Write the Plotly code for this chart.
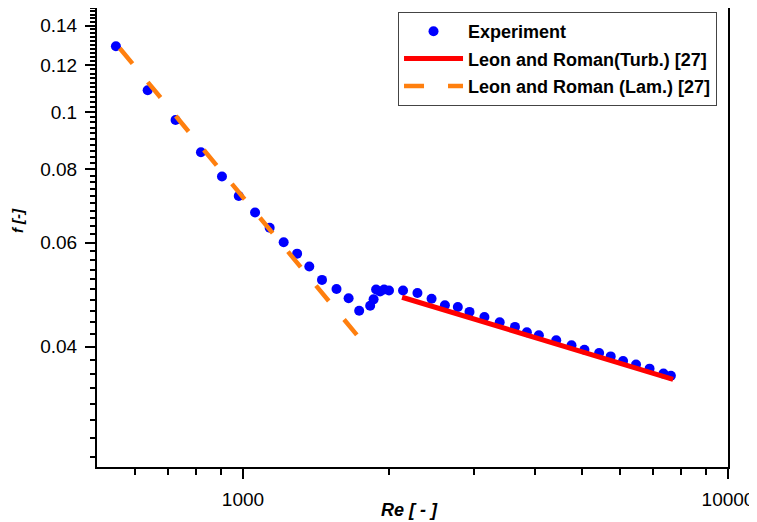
import numpy as np
import plotly.graph_objects as go

# Experimental data (Re, f)
exp_re = [547, 636, 726, 819, 905, 980, 1059, 1135, 1213, 1293, 1370, 1455, 1559, 1651,
          1736, 1829, 1859, 1881, 1917, 1954, 2000, 2138, 2289, 2448, 2608, 2773, 2931,
          3146, 3383, 3637, 3849, 4074, 4424, 4757, 5058, 5423, 5730, 6077, 6462, 6891,
          7362, 7625]
exp_f = [0.1292, 0.1088, 0.0969, 0.0854, 0.0777, 0.0720, 0.0675, 0.0636, 0.0601, 0.0575,
         0.0547, 0.0519, 0.0501, 0.0483, 0.0460, 0.0469, 0.0481, 0.0500, 0.0496, 0.0500,
         0.0498, 0.0498, 0.0493, 0.0482, 0.0470, 0.0467, 0.0458, 0.0449, 0.0440, 0.0432,
         0.0423, 0.0418, 0.0410, 0.0402, 0.0395, 0.0390, 0.0385, 0.0378, 0.0373, 0.0367,
         0.0360, 0.0357]

# Leon and Roman turbulent correlation
turb_re = [2128, 7706]
turb_f = [0.0485, 0.0352]

# Leon and Roman laminar correlation
lam_re = [557, 1736]
lam_f = [0.1282, 0.0414]

x_ticks = [1000, 10000]
x_ticktext = ["1000", "10000"]
y_ticks = [0.04, 0.06, 0.08, 0.1, 0.12, 0.14]
y_ticktext = ["0.04", "0.06", "0.08", "0.1", "0.12", "0.14"]
x_minor = [600, 700, 800, 900, 2000, 3000, 4000, 5000, 6000, 7000, 8000, 9000]
y_minor = [round(v, 3) for v in np.arange(0.026, 0.151, 0.002)]

FONT = "Liberation Sans, Arial, sans-serif"

fig = go.Figure()
fig.add_trace(go.Scatter(x=exp_re, y=exp_f, mode="markers", name="Experiment",
                         legendgroup="a",
                         marker=dict(color="#0000FF", size=10)))
fig.add_trace(go.Scatter(x=turb_re, y=turb_f, mode="lines", name="Leon and Roman(Turb.) [27]",
                         legendgroup="b",
                         line=dict(color="#FF0000", width=5)))
fig.add_trace(go.Scatter(x=lam_re, y=lam_f, mode="lines", name="Leon and Roman (Lam.) [27]",
                         legendgroup="c",
                         line=dict(color="#FF7F0E", width=4.5, dash="20px,24px")))

# the page body adds an 8px offset, so the figure is 749x514
fig.update_layout(
    width=749, height=514,
    margin=dict(l=89, r=29, t=0, b=55, autoexpand=False),
    paper_bgcolor="white", plot_bgcolor="white",
    font=dict(family=FONT, size=19, color="black"),
    showlegend=True,
    legend=dict(x=0.9826, y=0.9913, xanchor="right", yanchor="top",
                bordercolor="#444", borderwidth=1, bgcolor="white",
                font=dict(family=FONT, size=18, color="black", weight="bold"),
                itemwidth=59, tracegroupgap=1),
    xaxis=dict(type="log", range=[np.log10(500), 4], automargin=False,
               tickvals=x_ticks, ticktext=x_ticktext, ticklabelstandoff=4,
               ticks="outside", ticklen=10, tickwidth=1.5, tickcolor="black",
               showline=True, linecolor="black", linewidth=2, mirror=True,
               showgrid=False, zeroline=False,
               minor=dict(tickvals=x_minor, ticks="outside", ticklen=6,
                          tickwidth=1.5, tickcolor="black", showgrid=False)),
    yaxis=dict(type="log", range=[np.log10(0.025), np.log10(0.15)], automargin=False,
               tickvals=y_ticks, ticktext=y_ticktext, ticklabelstandoff=4,
               ticks="outside", ticklen=10, tickwidth=1.5, tickcolor="black",
               showline=True, linecolor="black", linewidth=2, mirror=True,
               showgrid=False, zeroline=False,
               minor=dict(tickvals=y_minor, ticks="outside", ticklen=5,
                          tickwidth=1.5, tickcolor="black", showgrid=False)),
    annotations=[
        dict(text="<b><i>Re [ - ]</i></b>", xref="paper", yref="paper",
             x=0.495, y=-0.093, xanchor="center", yanchor="middle",
             showarrow=False, font=dict(family=FONT, size=18, color="black")),
        dict(text="<b><i>f [-]</i></b>", xref="paper", yref="paper",
             x=-0.125, y=0.536, xanchor="center", yanchor="middle", textangle=-90,
             showarrow=False, font=dict(family=FONT, size=15, color="black")),
    ],
)

fig.write_html("out.html")
